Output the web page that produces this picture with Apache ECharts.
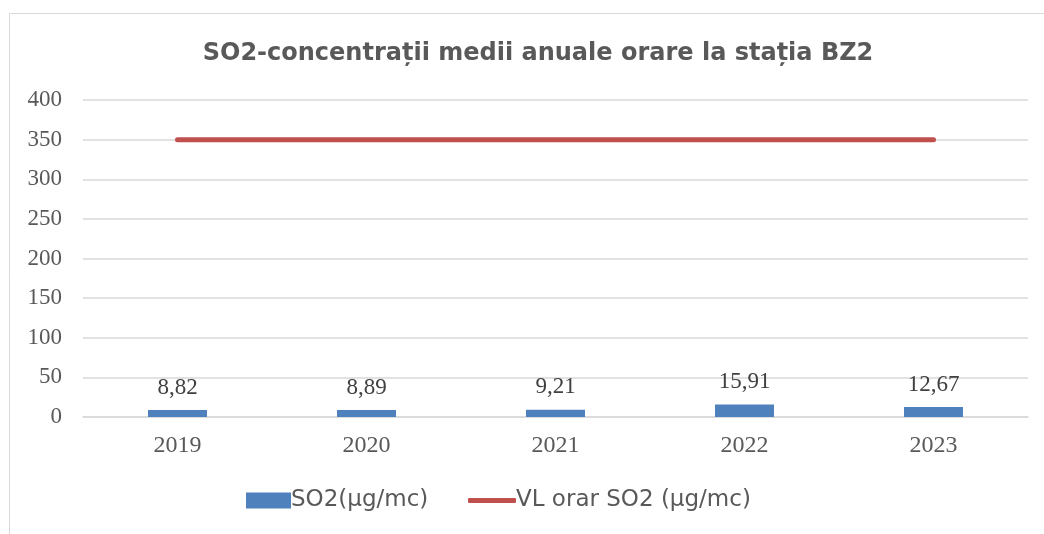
<!DOCTYPE html>
<html>
<head>
<meta charset="utf-8">
<script src="https://cdn.jsdelivr.net/npm/echarts@6/dist/echarts.min.js"></script>
<style>
  html, body { margin: 0; padding: 0; background: #fff; }
  #chart { width: 1044px; height: 534px; }
</style>
</head>
<body>
<div id="chart"></div>
<script>
var years = ['2019', '2020', '2021', '2022', '2023'];
var so2 = [8.82, 8.89, 9.21, 15.91, 12.67];
var vlOrar = [350, 350, 350, 350, 350];

var blue = '#4F81BD',
    red = '#C0504D',
    grey = '#595959';

var myChart = echarts.init(document.getElementById('chart'));

var option = {
    animation: false,
    title: {
        text: 'SO2-concentrații medii anuale orare la stația BZ2',
        left: 533,
        textAlign: 'center',
        top: 37,
        textStyle: {
            fontFamily: 'DejaVu Sans',
            fontWeight: 'bold',
            fontSize: 24,
            color: grey
        }
    },
    graphic: [{
        type: 'rect',
        shape: { x: 9.5, y: 13.5, width: 1200, height: 700 },
        style: { fill: 'none', stroke: '#D9D9D9', lineWidth: 1 },
        silent: true
    }],
    legend: [{
        left: 246,
        top: 489,
        padding: 0,
        icon: 'rect',
        itemWidth: 45,
        itemHeight: 16,
        data: ['SO2(µg/mc)'],
        textStyle: { fontFamily: 'DejaVu Sans', fontSize: 23, color: grey, padding: [0, 0, 0, -5] }
    }, {
        left: 468,
        top: 489,
        padding: 0,
        icon: 'roundRect',
        itemWidth: 48,
        itemHeight: 5,
        data: ['VL orar SO2 (µg/mc)'],
        textStyle: { fontFamily: 'DejaVu Sans', fontSize: 23, color: grey, padding: [0, 0, 0, -5] }
    }],
    grid: {
        left: 83,
        right: 16,
        top: 100,
        bottom: 117
    },
    xAxis: {
        type: 'category',
        data: years,
        axisTick: { show: false },
        axisLine: { lineStyle: { color: '#D9D9D9', width: 1.5 } },
        axisLabel: {
            margin: 17,
            fontFamily: 'Liberation Serif',
            fontSize: 24,
            color: grey
        }
    },
    yAxis: {
        type: 'value',
        min: 0,
        max: 400,
        interval: 50,
        axisLine: { show: false },
        axisTick: { show: false },
        splitLine: { lineStyle: { color: '#D9D9D9', width: 1.5 } },
        axisLabel: {
            margin: 21,
            fontFamily: 'Liberation Serif',
            fontSize: 23,
            color: grey
        }
    },
    series: [{
        name: 'SO2(µg/mc)',
        type: 'bar',
        data: so2,
        barWidth: 59,
        itemStyle: { color: blue },
        label: {
            show: true,
            position: 'top',
            distance: 11,
            fontFamily: 'Liberation Serif',
            fontSize: 23,
            color: '#404040',
            formatter: function (p) {
                return p.value.toFixed(2).replace('.', ',');
            }
        }
    }, {
        name: 'VL orar SO2 (µg/mc)',
        type: 'line',
        data: vlOrar,
        symbol: 'none',
        itemStyle: { color: red },
        lineStyle: { color: red, width: 5, cap: 'round' }
    }]
};

myChart.setOption(option);
</script>
</body>
</html>
